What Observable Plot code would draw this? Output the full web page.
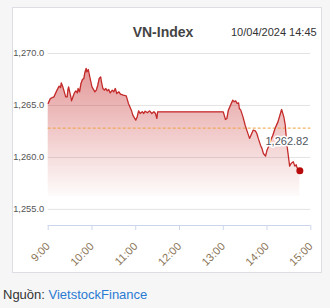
<!DOCTYPE html>
<html><head><meta charset="utf-8">
<script src="https://cdn.jsdelivr.net/npm/d3@7"></script>
<script src="https://cdn.jsdelivr.net/npm/@observablehq/plot@0.6"></script>
<style>
html,body{margin:0;padding:0;}
body{width:330px;height:308px;background:#f6f6f7;position:relative;overflow:hidden;font-family:Arial,"Liberation Sans",sans-serif;}
#card{position:absolute;left:12px;top:7px;width:310px;height:266px;box-sizing:border-box;border:1px solid #dddee4;background:#fff;}
#title{position:absolute;left:0;top:24px;width:326px;text-align:center;font-weight:bold;font-size:14px;color:#444;}
#date{position:absolute;left:231px;top:26px;font-size:11px;color:#333;}
#chart{position:absolute;left:12px;top:45px;}
#src{position:absolute;left:3px;top:287px;font-size:13px;color:#333;}
#src span{color:#2a7ad2;}
</style></head>
<body>
<div id="card"></div>
<div id="title">VN-Index</div>
<div id="date">10/04/2024 14:45</div>
<div id="chart"></div>
<div id="src">Nguồn: <span>VietstockFinance</span></div>
<script>
const times = [
"9:00","9:03","9:08","9:12","9:15","9:17","9:18","9:20","9:24","9:26",
"9:27","9:28","9:31","9:32","9:34","9:36","9:38","9:40","9:41","9:43",
"9:45","9:47","9:49","9:50","9:52","9:53","9:55","9:57","10:00","10:04",
"10:06","10:08","10:10","10:12","10:13","10:15","10:17","10:19","10:21","10:23",
"10:25","10:28","10:30","10:32","10:34","10:37","10:39","10:43","10:47","10:50",
"10:54","10:56","11:00","11:02","11:04","11:06","11:09","11:11","11:13","11:16",
"11:19","11:22","11:25","11:27","11:29","11:30","13:00","13:03","13:05","13:07",
"13:11","13:13","13:15","13:17","13:19","13:21","13:22","13:24","13:27","13:30",
"13:33","13:36","13:38","13:41","13:44","13:46","13:48","13:51","13:53","13:55",
"13:58","14:00","14:02","14:05","14:08","14:11","14:15","14:17","14:20","14:23",
"14:25","14:27","14:31","14:33","14:36","14:38","14:40","14:41","14:43","14:45"];
const values = [
1265.20,1265.67,1265.83,1266.47,1266.86,1266.73,1267.17,1266.80,1265.83,1265.83,
1266.47,1266.79,1265.83,1265.44,1265.83,1266.21,1266.40,1266.21,1266.63,1266.31,
1267.12,1267.50,1267.60,1268.08,1268.56,1268.23,1268.46,1267.75,1266.79,1266.31,
1266.47,1266.95,1267.60,1267.75,1267.27,1266.63,1266.47,1266.63,1266.40,1266.54,
1266.21,1266.47,1266.31,1266.63,1266.15,1266.31,1266.09,1265.99,1265.92,1265.19,
1264.55,1264.07,1263.59,1263.90,1264.48,1264.23,1264.39,1264.23,1264.45,1264.29,
1264.48,1264.23,1264.39,1264.23,1263.75,1264.39,1264.39,1263.65,1263.75,1264.55,
1265.19,1265.51,1265.35,1265.44,1265.19,1265.25,1264.71,1264.55,1263.90,1263.10,
1262.46,1261.83,1262.14,1262.62,1262.56,1262.30,1261.83,1261.18,1260.87,1260.38,
1260.12,1260.70,1261.02,1261.66,1262.14,1262.79,1263.42,1263.90,1264.61,1263.90,
1263.10,1261.35,1259.16,1259.42,1259.58,1259.16,1259.29,1259.04,1258.78,1258.71];
const prevClose = 1262.82;
const xTickLabels = ["9:00","10:00","11:00","12:00","13:00","14:00","15:00"];
const yTicks = [1255, 1260, 1265, 1270];
const yDomain = [1253.45, 1270];
const areaBase = 1256.25;

const toDate = s => { const [h, m] = s.split(":").map(Number); return new Date(Date.UTC(2024, 3, 10, h, m)); };
const data = times.map((t, i) => ({date: toDate(t), value: values[i]}));
const last = data[data.length - 1];
const xTicks = xTickLabels.map(toDate);

const chart = Plot.plot({
  width: 310, height: 227,
  marginLeft: 35.7, marginRight: 11.7, marginTop: 8, marginBottom: 47,
  style: {background: "transparent", fontFamily: "Arial, 'Liberation Sans', sans-serif"},
  x: {type: "utc", domain: [xTicks[0], xTicks[xTicks.length - 1]]},
  y: {domain: yDomain},
  marks: [
    Plot.gridY(yTicks, {stroke: "#e3e3e3", strokeOpacity: 1}),
    Plot.areaY(data, {x: "date", y1: areaBase, y2: "value", fill: "url(#vnGrad)", curve: "linear"}),
    Plot.ruleY([prevClose], {stroke: "#f0a040", strokeWidth: 1, strokeDasharray: "3,2"}),
    Plot.lineY(data, {x: "date", y: "value", stroke: "#c42a2a", strokeWidth: 1.3}),
    Plot.dot([last], {x: "date", y: "value", r: 3.5, fill: "#b80a0a"}),
    Plot.text([prevClose], {x: xTicks[xTicks.length - 1], y: d => d, text: d => d3.format(",.2f")(d), textAnchor: "end", dx: -2.5, dy: 13.5, fontSize: 11, fill: "#4e5660", stroke: "white", strokeWidth: 3}),
    Plot.ruleY([yDomain[0]], {stroke: "#ccd6eb"}),
    Plot.axisY({ticks: yTicks, tickFormat: d3.format(",.1f"), tickSize: 0, tickPadding: 4, fontSize: 9.3, fill: "#555", label: null}),
    Plot.axisX({ticks: xTicks, tickFormat: d3.utcFormat("%-H:%M"), tickRotate: -45, tickSize: 5, tickPadding: 14, fontSize: 11, stroke: "#ccd6eb", fill: "#8a7456", label: null})
  ]
});
const ns = "http://www.w3.org/2000/svg";
const defs = document.createElementNS(ns, "defs");
defs.innerHTML = '<linearGradient id="vnGrad" x1="0" y1="0" x2="0" y2="1"><stop offset="0" stop-color="#c83232" stop-opacity="0.5"/><stop offset="1" stop-color="#c83232" stop-opacity="0.02"/></linearGradient>';
chart.insertBefore(defs, chart.firstChild);
document.getElementById("chart").appendChild(chart);
</script>
</body></html>
